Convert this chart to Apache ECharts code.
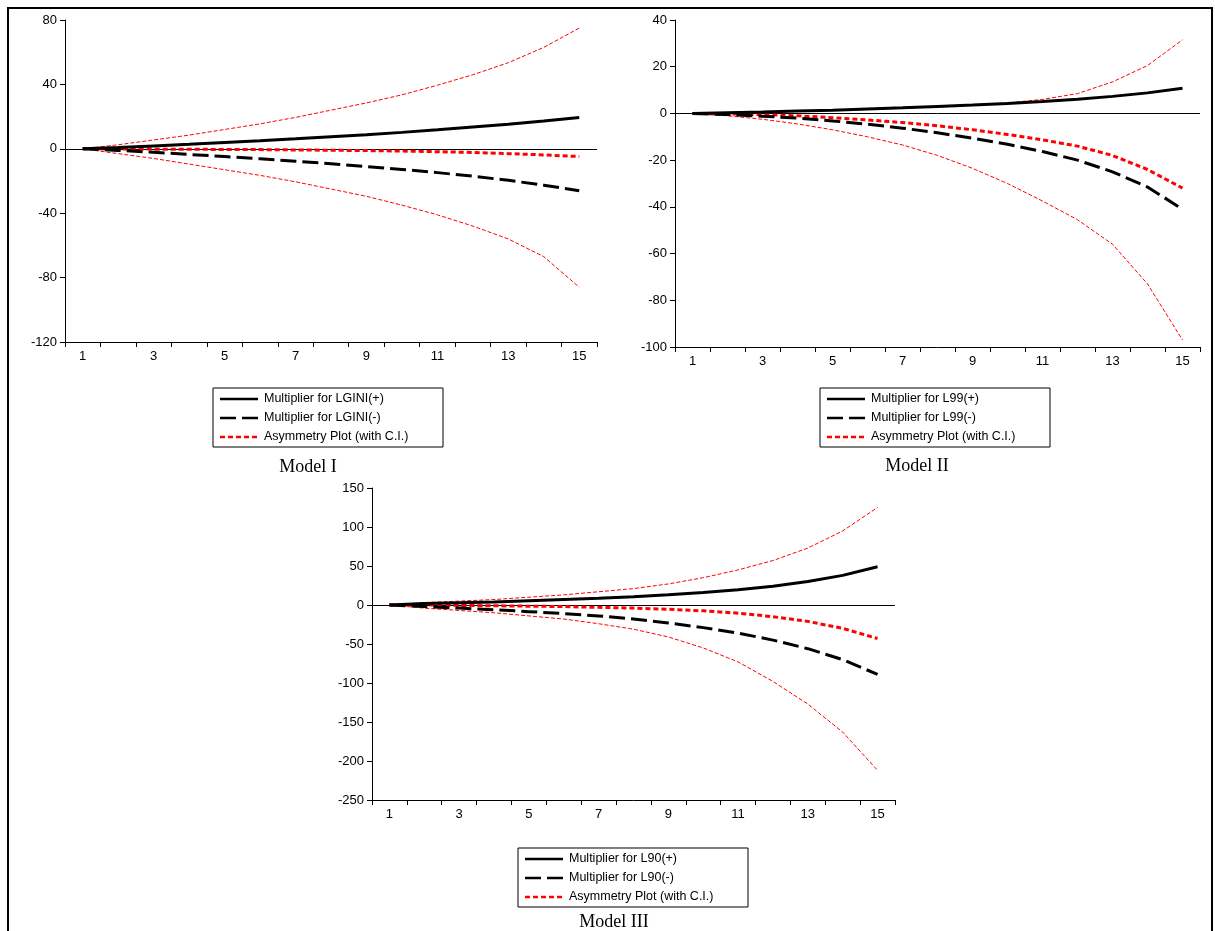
<!DOCTYPE html>
<html><head><meta charset="utf-8">
<script src="https://cdn.jsdelivr.net/npm/echarts@6/dist/echarts.min.js"></script>
<style>html,body{margin:0;background:#fff}#c{width:1215px;height:931px}</style>
</head><body><div id="c"></div>
<script>
let periods = ["1","2","3","4","5","6","7","8","9","10","11","12","13","14","15"];

// Model I
let m1Pos = [0,0.8,1.8,2.8,3.9,5,6.2,7.5,8.8,10.2,11.8,13.5,15.2,17.2,19.5];
let m1Neg = [0,-1,-2.2,-3.5,-4.8,-6.2,-7.7,-9.3,-11,-12.8,-14.8,-17,-19.6,-22.6,-26];
let m1Asym = [0,-0.1,-0.2,-0.3,-0.4,-0.5,-0.7,-0.9,-1.1,-1.4,-1.8,-2.3,-3,-3.8,-4.8];
let m1Up = [0,2.5,5.5,8.5,12,15.5,19.5,24,28.5,33.5,39.5,46,53.5,63,75];
let m1Lo = [0,-3,-6,-9.5,-13,-16.5,-20.5,-25,-29.5,-35,-41,-48,-56,-67,-86];

// Model II
let m2Pos = [0,0.3,0.6,1,1.4,1.9,2.4,3,3.6,4.3,5.1,6.1,7.3,8.8,10.8];
let m2Neg = [0,-0.5,-1.2,-2,-3.2,-4.6,-6.3,-8.3,-10.6,-13.2,-16.3,-20,-25,-31.5,-41];
let m2Asym = [0,-0.2,-0.5,-1,-1.8,-2.8,-3.9,-5.3,-7,-9,-11.3,-14,-18,-24,-32];
let m2Up = [0,0.4,0.7,1,1.3,1.7,2.2,2.8,3.5,4.5,6,8.5,13.5,20.5,31.5];
let m2Lo = [0,-1,-2.5,-4.5,-7,-10,-13.5,-18,-23.5,-30,-37.5,-45.5,-56,-73,-97];

// Model III
let m3Pos = [0,2,3,4,5.5,7,8.5,10.5,13,16,19.5,24,30,38,49];
let m3Neg = [0,-2,-4,-6,-8.5,-11,-14,-18,-23,-29,-36,-45,-56,-70,-89];
let m3Asym = [0,0,-0.5,-1,-1.5,-2,-3,-4,-5.5,-7.5,-10.5,-15,-21,-30,-43];
let m3Up = [0,3,5,7,10,13,17,21,27,35,45,57,73,95,125];
let m3Lo = [0,-4,-7,-10,-14,-18,-24,-31,-41,-55,-73,-98,-127,-163,-212];

let panels = [
  { grid: {left:65, top:20, width:532, height:322}, min:-120, max:80, step:40,
    data:[m1Pos,m1Neg,m1Asym,m1Up,m1Lo], names:["LGINI(+)","LGINI(-)"],
    legend:[213,388], title:["Model I",308,467] },
  { grid: {left:675, top:20, width:525, height:327}, min:-100, max:40, step:20,
    data:[m2Pos,m2Neg,m2Asym,m2Up,m2Lo], names:["L99(+)","L99(-)"],
    legend:[820,388], title:["Model II",917,466] },
  { grid: {left:372, top:488, width:523, height:312}, min:-250, max:150, step:50,
    data:[m3Pos,m3Neg,m3Asym,m3Up,m3Lo], names:["L90(+)","L90(-)"],
    legend:[518,848], title:["Model III",614,922] }
];

let font = "Liberation Sans, Arial, sans-serif";
let grids = [], xAxes = [], yAxes = [], series = [], graphics = [];

graphics.push({ type:"polyline", silent:true,
  shape:{points:[[8,940],[8,8],[1212,8],[1212,940]]},
  style:{stroke:"#000", lineWidth:2, fill:null} });

panels.forEach(function (p, i) {
  grids.push(p.grid);
  xAxes.push({ type:"category", gridIndex:i, data:periods, boundaryGap:true,
    axisLine:{onZero:false, lineStyle:{color:"#000"}},
    axisTick:{show:true, interval:0, length:5, lineStyle:{color:"#000"}},
    axisLabel:{interval:1, color:"#000", fontFamily:font, fontSize:13, margin:8} });
  yAxes.push({ type:"value", gridIndex:i, min:p.min, max:p.max, interval:p.step,
    axisLine:{show:true, lineStyle:{color:"#000"}},
    axisTick:{show:true, length:5, lineStyle:{color:"#000"}},
    splitLine:{show:false},
    axisLabel:{color:"#000", fontFamily:font, fontSize:13, margin:8} });
  let styles = [
    {color:"#000", width:3, type:"solid"},
    {color:"#000", width:3, type:[16,6]},
    {color:"#ff0000", width:3, type:[5,3]},
    {color:"#ff0000", width:1, type:[4,2]},
    {color:"#ff0000", width:1, type:[4,2]}
  ];
  p.data.forEach(function (d, k) {
    let s = { type:"line", xAxisIndex:i, yAxisIndex:i, data:d, symbol:"none",
      silent:true, animation:false, lineStyle:styles[k], z: 10 - k };
    if (k === 0) {
      s.markLine = { silent:true, symbol:"none", label:{show:false},
        lineStyle:{color:"#000", width:1, type:"solid"}, data:[{yAxis:0}] };
    }
    series.push(s);
  });

  let lx = p.legend[0], ly = p.legend[1];
  graphics.push({ type:"rect", silent:true, shape:{x:lx, y:ly, width:230, height:59},
    style:{fill:"#fff", stroke:"#000", lineWidth:1} });
  let items = [
    ["Multiplier for " + p.names[0], styles[0]],
    ["Multiplier for " + p.names[1], styles[1]],
    ["Asymmetry Plot (with C.I.)", styles[2]]
  ];
  items.forEach(function (it, k) {
    let yy = ly + 11 + k * 19;
    graphics.push({ type:"line", silent:true,
      shape:{x1:lx+7, y1:yy, x2:lx+45, y2:yy},
      style:{stroke:it[1].color, lineWidth:2.5, lineDash:it[1].type === "solid" ? null : it[1].type} });
    graphics.push({ type:"text", silent:true,
      style:{x:lx+51, y:yy, text:it[0], fill:"#000", font:"12.5px " + font, textVerticalAlign:"middle"} });
  });
  graphics.push({ type:"text", silent:true,
    style:{x:p.title[1], y:p.title[2], text:p.title[0], fill:"#000",
      font:"18px Liberation Serif, Times New Roman, serif", textAlign:"center", textVerticalAlign:"middle"} });
});

let chart = echarts.init(document.getElementById("c"));
chart.setOption({ animation:false, grid:grids, xAxis:xAxes, yAxis:yAxes, series:series, graphic:graphics });
</script>
</body></html>
